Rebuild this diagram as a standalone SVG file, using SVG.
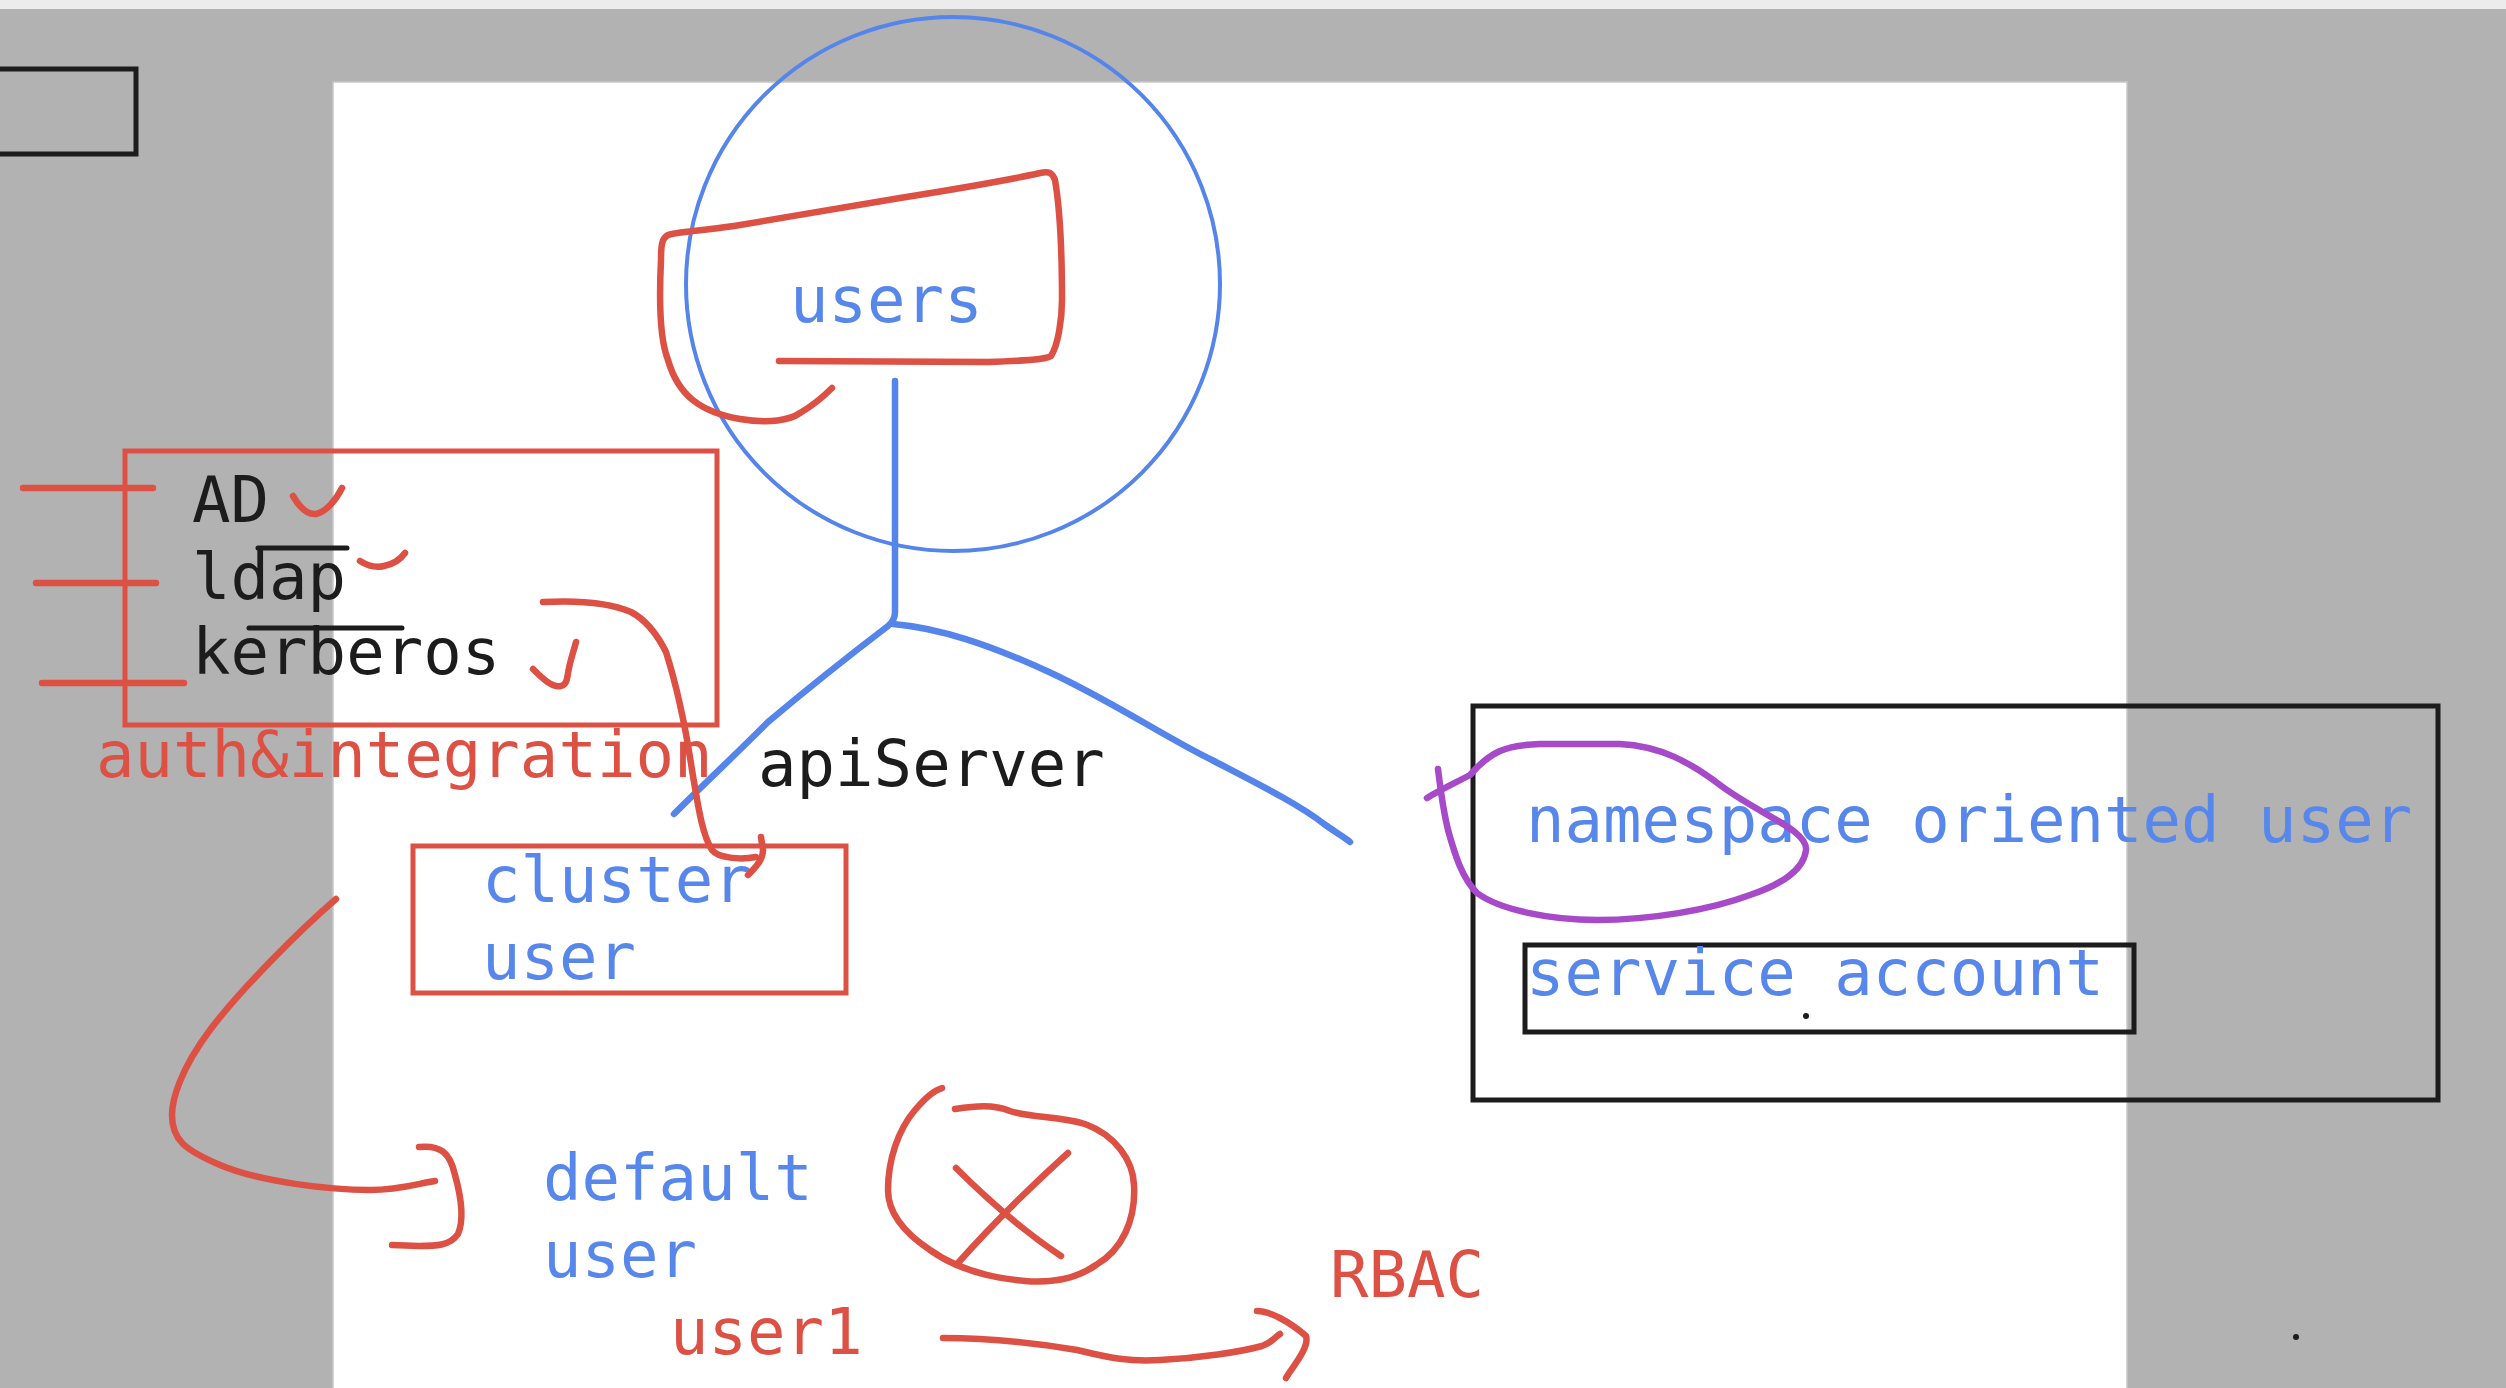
<svg xmlns="http://www.w3.org/2000/svg" width="2506" height="1388" viewBox="0 0 2506 1388">
<style>
.t{font-family:"DejaVu Sans Mono","Liberation Mono",monospace;font-size:64px}
.blue{fill:#5887ec}.red{fill:#dd5044}.blk{fill:#1c1c1c}
.rs{fill:none;stroke:#dd5044;stroke-width:6.5;stroke-linecap:round;stroke-linejoin:round}
.bs{fill:none;stroke:#5585ea;stroke-width:6.5;stroke-linecap:round;stroke-linejoin:round}
.ks{fill:none;stroke:#1c1c1c;stroke-width:5;stroke-linecap:round;stroke-linejoin:round}
.rbox{fill:none;stroke:#dd5044;stroke-width:5}
.kbox{fill:none;stroke:#1c1c1c;stroke-width:5}
</style>
<rect x="0" y="0" width="2506" height="1388" fill="#b2b2b2"/>
<rect x="0" y="0" width="2506" height="9" fill="#ececec"/>
<rect x="333" y="82" width="1794" height="1320" fill="#ffffff" stroke="#c8c8c8" stroke-width="1.5"/>
<rect id="corner-box" x="-10" y="69" width="146" height="85" class="kbox"/>

<g id="users">
  <circle cx="953" cy="284" r="267" fill="none" stroke="#5585ea" stroke-width="4"/>
  <path class="rs" d="M779,361 L988,362 C1020,361 1045,360 1051,356 C1058,345 1062,320 1062,300 C1062,260 1061,215 1055,180 C1052,172 1048,171 1040,173 C1000,182 950,190 900,198 L734,226 C700,231 675,232 668,235 C662,238 661,245 661,260 C659,300 660,340 668,360 C678,395 700,412 740,419 C770,424 790,420 800,413 C812,406 822,398 832,388"/>
  <text class="t blue" x="790" y="322">users</text>
</g>

<g id="auth-integration">
  <rect x="125" y="451" width="592" height="274" class="rbox"/>
  <path class="rs" d="M23,488 L153,488 M36,583 L156,583 M42,683 L184,683" stroke-width="7.5"/>
  <text class="t blk" x="192" y="522">AD</text>
  <text class="t blk" x="192" y="599">ldap</text>
  <text class="t blk" x="192" y="674">kerberos</text>
  <path class="ks" d="M258,548 L347,548 M249,628 L402,628"/>
  <path class="rs" d="M293,496 C300,508 308,515 316,514 C326,512 336,500 342,488"/>
  <path class="rs" d="M360,561 C368,566 376,568 384,566 C394,564 400,560 405,553"/>
  <path class="rs" d="M533,669 C542,678 552,688 561,686 C568,684 567,676 569,668 C571,658 574,650 576,642"/>
  <text class="t red" x="96" y="777">auth&amp;integration</text>
</g>

<g id="apiServer">
  <text class="t blk" x="758" y="786">apiServer</text>
</g>

<g id="cluster-user">
  <rect x="413" y="846" width="433" height="147" class="rbox"/>
  <text class="t blue" x="482" y="902">cluster</text>
  <text class="t blue" x="482" y="979">user</text>
</g>

<g id="namespace-oriented-user">
  <rect x="1473" y="706" width="965" height="394" class="kbox"/>
  <text class="t blue" x="1526" y="842">namespace oriented user</text>
  <path fill="none" stroke="#a64ac9" stroke-width="6.5" stroke-linecap="round" stroke-linejoin="round" d="M1427,798 C1440,790 1455,783 1470,775 C1490,752 1505,745 1540,744 L1620,744 C1660,746 1690,762 1720,785 C1760,815 1808,830 1806,850 C1804,870 1780,885 1750,895 C1710,910 1650,920 1597,920 C1550,920 1500,910 1477,893 C1462,878 1455,855 1448,830 C1442,805 1440,785 1438,769"/>
</g>

<g id="service-account">
  <rect x="1525" y="945" width="609" height="87" class="kbox"/>
  <text class="t blue" x="1526" y="995">service account</text>
  <circle cx="1806" cy="1016" r="3" fill="#1c1c1c"/>
</g>

<g id="default-user">
  <text class="t blue" x="543" y="1200">default</text>
  <text class="t blue" x="543" y="1277">user</text>
  <path class="rs" d="M955,1109 C975,1106 993,1104 1010,1111 C1030,1118 1060,1116 1085,1124 C1115,1135 1133,1160 1134,1185 C1136,1220 1122,1250 1096,1265 C1075,1280 1050,1283 1025,1281 C990,1278 955,1268 930,1250 C900,1230 888,1210 888,1190 C888,1160 898,1130 915,1110 C925,1098 935,1090 942,1088"/>
  <path class="rs" d="M956,1168 Q1010,1222 1061,1256 M1068,1153 Q1005,1210 958,1263"/>
</g>

<g id="user1">
  <text class="t red" x="670" y="1354">user1</text>
</g>

<g id="rbac">
  <text class="t red" x="1330" y="1297">RBAC</text>
</g>

<circle cx="2296" cy="1337" r="3" fill="#1c1c1c"/>

<g id="connectors">
  <path class="bs" d="M895,381 L895,612 C895,618 893,622 888,626 C850,655 800,695 768,722 C735,755 700,788 674,814"/>
  <path class="bs" d="M893,624 C940,628 990,645 1049,672 C1110,700 1170,740 1212,760 C1260,785 1300,805 1324,824 C1338,834 1346,838 1350,842"/>
  <path class="rs" d="M543,602 C580,600 610,603 631,612 C650,622 660,640 666,652 C678,690 686,730 692,770 C698,805 702,835 712,850 C718,858 740,860 756,857"/>
  <path class="rs" d="M748,875 C755,868 763,860 763,850 L761,837"/>
  <path class="rs" d="M336,899 C300,930 240,990 210,1030 C180,1070 172,1100 172,1115 C172,1140 185,1150 220,1165 C260,1182 330,1190 370,1190 C400,1190 420,1183 435,1181"/>
  <path class="rs" d="M419,1147 C440,1145 450,1152 455,1175 C462,1200 464,1220 458,1234 C450,1246 435,1246 419,1246 L392,1245"/>
  <path class="rs" d="M943,1338 C980,1338 1030,1342 1077,1350 C1110,1358 1130,1362 1160,1360 C1200,1358 1240,1352 1262,1346 C1272,1343 1276,1336 1280,1334"/>
  <path class="rs" d="M1257,1311 C1270,1311 1290,1322 1306,1336 C1310,1348 1290,1370 1286,1378"/>
</g>
</svg>
